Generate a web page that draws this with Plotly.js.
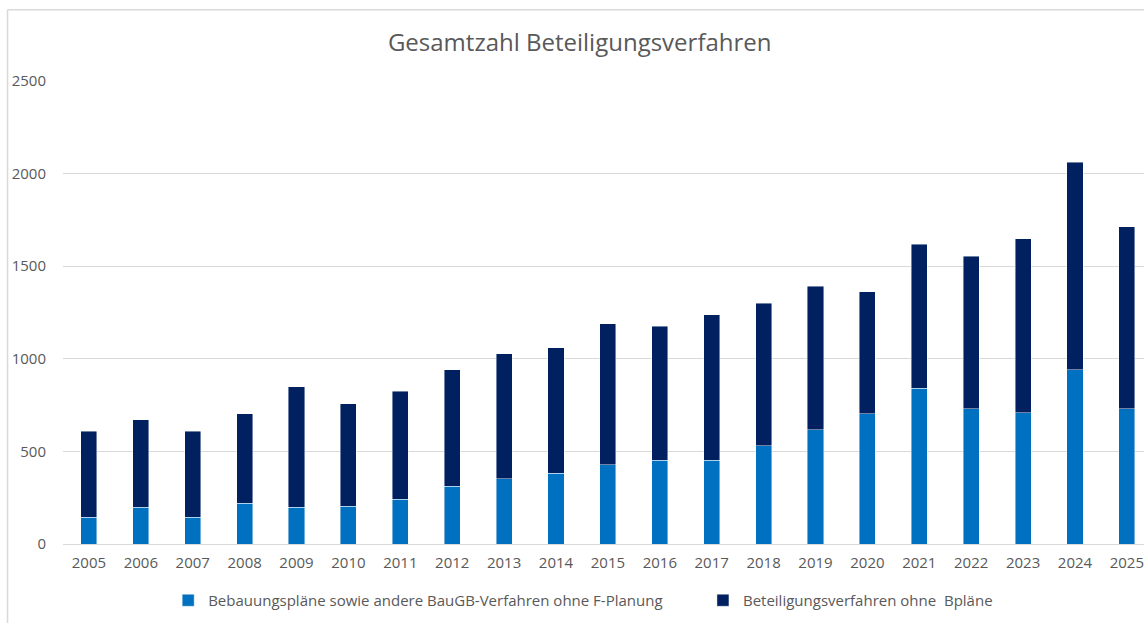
<!DOCTYPE html>
<html>
<head>
<meta charset="utf-8">
<script src="https://cdn.plot.ly/plotly-3.0.1.min.js"></script>
<style>
  html, body { margin: 0; padding: 0; background: #ffffff; }
  #chart { width: 1144px; height: 623px; }
</style>
</head>
<body>
<div id="chart"></div>
<script>
const years = ["2005","2006","2007","2008","2009","2010","2011","2012","2013","2014","2015",
               "2016","2017","2018","2019","2020","2021","2022","2023","2024","2025"];
const bebauungsplaene = [144,198,144,219,198,205,243,313,353,383,428,453,453,531,616,702,840,731,709,941,731];
const beteiligungOhneBplaene = [464,472,464,483,651,551,583,628,673,677,762,722,784,768,777,659,778,824,940,1120,981];
const seriesNames = ["Bebauungspläne sowie andere BauGB-Verfahren ohne F-Planung",
                     "Beteiligungsverfahren ohne  Bpläne"];
const chartTitle = "Gesamtzahl Beteiligungsverfahren";
const yTicks = [0, 500, 1000, 1500, 2000, 2500];

const FONT = "'Open Sans', 'Liberation Sans', sans-serif";
const GREY = "#595959";

const traces = [
  {
    type: "bar", name: seriesNames[0], x: years, y: bebauungsplaene,
    marker: { color: "#0070C0", line: { color: "rgba(255,255,255,0.55)", width: 0.8 } },
    legend: "legend",
    hoverinfo: "x+y+name"
  },
  {
    type: "bar", name: seriesNames[1], x: years, y: beteiligungOhneBplaene,
    marker: { color: "#002060", line: { color: "rgba(255,255,255,0.55)", width: 0.8 } },
    legend: "legend2",
    hoverinfo: "x+y+name"
  }
];

const legendStyle = {
  orientation: "h",
  y: -0.122, yanchor: "middle", xanchor: "left",
  font: { family: FONT, size: 15, color: GREY },
  bgcolor: "rgba(0,0,0,0)",
  itemclick: false
};

const layout = {
  width: 1144, height: 623,
  barmode: "stack",
  bargap: 0.69,
  paper_bgcolor: "#ffffff",
  plot_bgcolor: "#ffffff",
  margin: { l: 62.8, r: 0, t: 81, b: 78.7, pad: 0 },
  font: { family: FONT, color: GREY, size: 15 },
  title: {
    text: chartTitle,
    font: { family: FONT, size: 24, color: GREY },
    x: 0.478, xref: "paper", xanchor: "center",
    y: 0.931, yref: "container", yanchor: "middle"
  },
  xaxis: {
    type: "category",
    range: [-0.5, 20.33],
    showgrid: false, zeroline: false, showline: false,
    ticks: "", ticklabelstandoff: 8,
    tickfont: { family: FONT, size: 15, color: GREY },
    fixedrange: true
  },
  yaxis: {
    range: [0, 2500],
    tickvals: yTicks,
    showgrid: true, gridcolor: "#d9d9d9", gridwidth: 1,
    zeroline: true, zerolinecolor: "#d9d9d9", zerolinewidth: 1,
    showline: false, ticks: "",
    ticklabelstandoff: 16,
    tickfont: { family: FONT, size: 15, color: GREY },
    fixedrange: true
  },
  legend: Object.assign({}, legendStyle, { x: 0.0973 }),
  legend2: Object.assign({}, legendStyle, { x: 0.592 }),
  shapes: [
    { type: "line", xref: "paper", yref: "paper", x0: -0.0513, x1: -0.0513, y0: -0.2, y1: 1.154,
      line: { color: "#d9d9d9", width: 1.5 } },
    { type: "line", xref: "paper", yref: "paper", x0: -0.0513, x1: 1.0, y0: 1.154, y1: 1.154,
      line: { color: "#d9d9d9", width: 1.5 } }
  ],
  showlegend: true
};

Plotly.newPlot("chart", traces, layout, { displayModeBar: false, staticPlot: false });
</script>
</body>
</html>
